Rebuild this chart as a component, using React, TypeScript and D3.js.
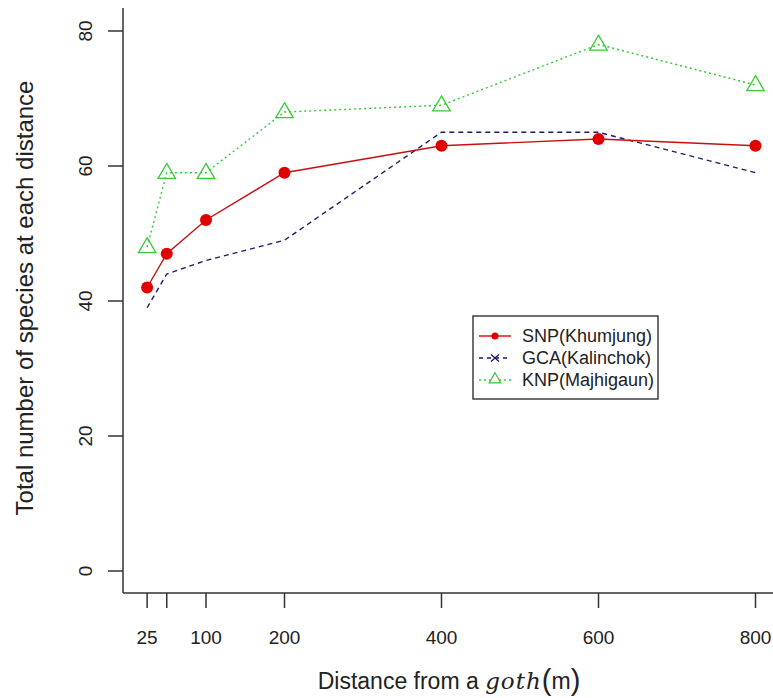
import React from "react";
import * as d3 from "d3";

const distances = [25, 50, 100, 200, 400, 600, 800];
const snpValues = [42, 47, 52, 59, 63, 64, 63];
const gcaValues = [39, 44, 46, 49, 65, 65, 59];
const knpValues = [48, 59, 59, 68, 69, 78, 72];
const xTickValues = [25, 50, 100, 200, 400, 600, 800];
const xTickLabels = ["25", "", "100", "200", "400", "600", "800"];
const yTickValues = [0, 20, 40, 60, 80];
const legendLabels = ["SNP(Khumjung)", "GCA(Kalinchok)", "KNP(Majhigaun)"];

const W = 773;
const H = 698;
const FONT = "Liberation Sans, Arial, sans-serif";

export default function App() {
  const x = d3.scaleLinear().domain([0, 800]).range([127.5, 755.5]);
  const y = d3.scaleLinear().domain([0, 80]).range([571, 31]);
  const axisLeft = 123;
  const axisBottom = 593;

  const line = d3
    .line<[number, number]>()
    .x((d) => x(d[0]))
    .y((d) => y(d[1]));
  const pts = (vals: number[]) => distances.map((d, i) => [d, vals[i]] as [number, number]);

  const snpColor = "#e00000";
  const gcaColor = "#1a1a6e";
  const knpColor = "#33cc33";

  const tri = (cx: number, cy: number, s: number) =>
    `M${cx},${cy - s * 0.62} L${cx + s * 0.58},${cy + s * 0.38} L${cx - s * 0.58},${cy + s * 0.38} Z`;

  const legX = 473;
  const legY = 316;
  const rows = [336, 358, 380];

  return (
    <svg
      width={W}
      height={H}
      style={{ position: "absolute", left: 0, top: 0, background: "#fff" }}
      fontFamily={FONT}
    >
      <rect x={0} y={0} width={W} height={H} fill="#fff" />
      {/* axes (L box) */}
      <line x1={axisLeft} y1={8} x2={axisLeft} y2={axisBottom} stroke="#333" strokeWidth={1.5} />
      <line x1={axisLeft} y1={axisBottom} x2={W} y2={axisBottom} stroke="#333" strokeWidth={1.5} />
      {/* y ticks */}
      {yTickValues.map((v) => (
        <g key={"y" + v}>
          <line x1={108} x2={axisLeft} y1={y(v)} y2={y(v)} stroke="#333" strokeWidth={1.5} />
          <text
            transform={`translate(92,${y(v)}) rotate(-90)`}
            textAnchor="middle"
            fontSize={19}
            fill="#222"
          >
            {v}
          </text>
        </g>
      ))}
      {/* x ticks */}
      {xTickValues.map((v, i) => (
        <g key={"x" + v}>
          <line x1={x(v)} x2={x(v)} y1={axisBottom} y2={608} stroke="#333" strokeWidth={1.5} />
          <text x={x(v)} y={644} textAnchor="middle" fontSize={19} fill="#222">
            {xTickLabels[i]}
          </text>
        </g>
      ))}
      {/* axis titles */}
      <text
        transform={`translate(33,${298}) rotate(-90)`}
        textAnchor="middle"
        fontSize={24}
        fill="#222"
      >
        Total number of species at each distance
      </text>
      <text x={449} y={689} textAnchor="middle" fontSize={23} fill="#222">
        Distance from a{" "}
        <tspan fontStyle="italic" fontFamily="DejaVu Serif, serif" letterSpacing={1}>
          goth
        </tspan>
        <tspan fontSize={29} dy={1}>(</tspan>
        <tspan dy={-1}>m</tspan>
        <tspan fontSize={29} dy={1}>)</tspan>
      </text>

      {/* series lines */}
      <path d={line(pts(knpValues)) || ""} fill="none" stroke={knpColor} strokeWidth={1.4} strokeDasharray="2,3" />
      <path d={line(pts(gcaValues)) || ""} fill="none" stroke={gcaColor} strokeWidth={1.4} strokeDasharray="5,4" />
      <path d={line(pts(snpValues)) || ""} fill="none" stroke="#c81010" strokeWidth={1.4} />

      {/* markers */}
      {pts(snpValues).map((p, i) => (
        <circle key={"s" + i} cx={x(p[0])} cy={y(p[1])} r={6} fill={snpColor} />
      ))}
      {pts(knpValues).map((p, i) => (
        <path key={"k" + i} d={tri(x(p[0]), y(p[1]), 15)} fill="none" stroke={knpColor} strokeWidth={1.3} />
      ))}

      {/* legend */}
      <rect x={legX} y={legY} width={185} height={83} fill="#fff" stroke="#222" strokeWidth={1.3} />
      <line x1={479} x2={511} y1={rows[0]} y2={rows[0]} stroke={snpColor} strokeWidth={1.4} />
      <circle cx={495} cy={rows[0]} r={3.5} fill={snpColor} />
      <line x1={479} x2={511} y1={rows[1]} y2={rows[1]} stroke={gcaColor} strokeWidth={1.4} strokeDasharray="4,4" />
      <path d={`M491,${rows[1] - 3.5} L499,${rows[1] + 3.5} M499,${rows[1] - 3.5} L491,${rows[1] + 3.5}`} stroke={gcaColor} strokeWidth={1.3} />
      <line x1={479} x2={511} y1={rows[2]} y2={rows[2]} stroke={knpColor} strokeWidth={1.4} strokeDasharray="2,3" />
      <path d={tri(495, rows[2] - 1, 10)} fill="#fff" stroke={knpColor} strokeWidth={1.2} />
      {legendLabels.map((t, i) => (
        <text key={t} x={522} y={rows[i] + 6} fontSize={18} fill="#222">
          {t}
        </text>
      ))}
    </svg>
  );
}
